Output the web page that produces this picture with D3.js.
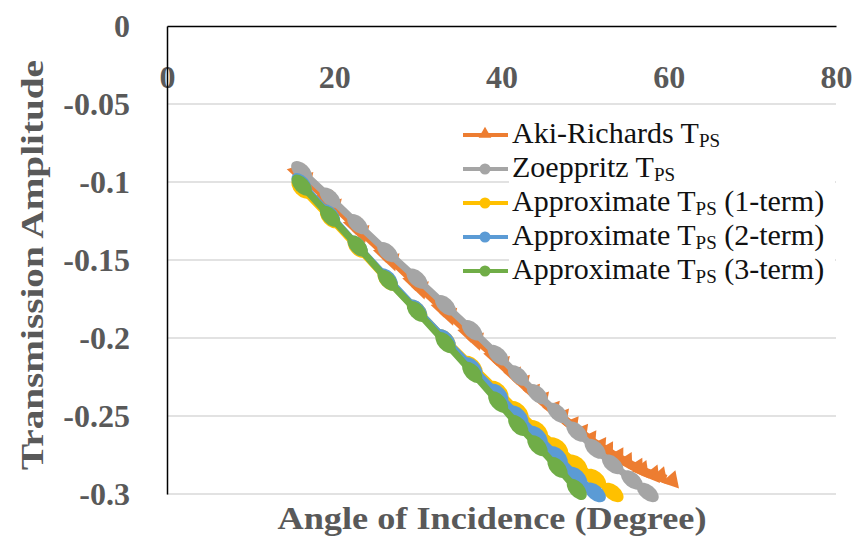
<!DOCTYPE html>
<meta charset="utf-8">
<script src="https://d3js.org/d3.v7.min.js"></script>
<style>
  body { margin: 0; background: #fff; }
</style>
<div id="chart"></div>
<script>

// angles of incidence (degrees) shared by every series
var angles = [16.1, 19.5, 22.8, 26.4, 29.9, 33.3, 36.5, 39.6, 42.0, 44.3, 46.7, 49.0, 51.2, 53.3, 55.6, 57.5, 59.7];

// transmission amplitudes
var akiRichards = [-0.096, -0.113, -0.130, -0.148, -0.166, -0.183, -0.199, -0.214, -0.226, -0.237, -0.248, -0.258, -0.267, -0.274, -0.281, -0.286, -0.290];
var zoeppritz   = [-0.093, -0.110, -0.127, -0.145, -0.162, -0.179, -0.195, -0.211, -0.224, -0.236, -0.248, -0.260, -0.271, -0.281, -0.291, -0.299];
var approx1     = [-0.104, -0.123, -0.142, -0.163, -0.182, -0.201, -0.218, -0.234, -0.247, -0.259, -0.270, -0.281, -0.290, -0.299];
var approx2     = [-0.101, -0.121, -0.141, -0.162, -0.182, -0.201, -0.219, -0.236, -0.250, -0.263, -0.276, -0.289, -0.299];
var approx3     = [-0.102, -0.122, -0.141, -0.163, -0.183, -0.203, -0.222, -0.241, -0.256, -0.269, -0.283, -0.297];

var seriesNames = ["Aki-Richards", "Zoeppritz", "Approximate", "Approximate", "Approximate"];
var seriesSuffix = ["", "", " (1-term)", " (2-term)", " (3-term)"];
var seriesColors = ["#ED7D31", "#A5A5A5", "#FFC000", "#5B9BD5", "#70AD47"];
var seriesValues = [akiRichards, zoeppritz, approx1, approx2, approx3];

var xTicks = [0, 20, 40, 60, 80];
var yTicks = [0, -0.05, -0.1, -0.15, -0.2, -0.25, -0.3];

var width = 857, height = 545;
var plotLeft = 167, plotRight = 836, plotTop = 26, plotBottom = 494;

var svg = d3.select("#chart")
  .append("svg")
    .attr("width", width)
    .attr("height", height);

var x = d3.scaleLinear().domain([0, 80]).range([plotLeft, plotRight]);
var y = d3.scaleLinear().domain([-0.3, 0]).range([plotBottom, plotTop]);

// gridlines
svg.append("g")
  .selectAll("line")
  .data(yTicks.filter(function(d) { return d < 0; }))
  .enter()
  .append("line")
    .attr("x1", plotLeft)
    .attr("x2", plotRight)
    .attr("y1", function(d) { return y(d); })
    .attr("y2", function(d) { return y(d); })
    .attr("stroke", "#d9d9d9")
    .attr("stroke-width", 1.3);

var tickFont = "'Liberation Serif', 'DejaVu Serif', serif";

// X axis (sits at y = 0, the top of the plot)
var gx = svg.append("g")
  .attr("transform", "translate(0," + y(0) + ")")
  .call(d3.axisBottom(x).tickValues(xTicks).tickSize(0).tickPadding(39).tickFormat(d3.format("d")));
gx.select(".domain").attr("stroke", "#000").attr("stroke-width", 1.5);
gx.selectAll("text")
  .style("font-family", tickFont)
  .style("font-size", "32px")
  .style("font-weight", "bold")
  .attr("fill", "#595959");

// Y axis
var gy = svg.append("g")
  .attr("transform", "translate(" + x(0) + ",0)")
  .call(d3.axisLeft(y).tickValues(yTicks).tickSize(0).tickPadding(37)
    .tickFormat(function(d) { return d === 0 ? "0" : String(d); }));
gy.select(".domain").attr("stroke", "#000").attr("stroke-width", 1.5);
gy.selectAll("text")
  .style("font-family", tickFont)
  .style("font-size", "32px")
  .style("font-weight", "bold")
  .attr("fill", "#595959");

// axis titles
svg.append("text")
  .attr("x", 492)
  .attr("y", 529)
  .attr("text-anchor", "middle")
  .attr("textLength", 429)
  .attr("lengthAdjust", "spacingAndGlyphs")
  .style("font-family", tickFont)
  .style("font-size", "32px")
  .style("font-weight", "bold")
  .attr("fill", "#595959")
  .text("Angle of Incidence (Degree)");

svg.append("text")
  .attr("transform", "translate(43,265)rotate(-90)")
  .attr("text-anchor", "middle")
  .attr("textLength", 410)
  .attr("lengthAdjust", "spacingAndGlyphs")
  .style("font-family", tickFont)
  .style("font-size", "32px")
  .style("font-weight", "bold")
  .attr("fill", "#595959")
  .text("Transmission Amplitude");

// series
var line = d3.line()
  .x(function(d) { return x(d[0]); })
  .y(function(d) { return y(d[1]); });

function slopeAt(pts, i) {
  var a = pts[Math.max(i - 1, 0)], b = pts[Math.min(i + 1, pts.length - 1)];
  return Math.atan2(y(b[1]) - y(a[1]), x(b[0]) - x(a[0])) * 180 / Math.PI;
}

var triangle = d3.symbol().type(d3.symbolTriangle).size(150)();

seriesValues.forEach(function(vals, s) {
  var pts = vals.map(function(v, i) { return [angles[i], v]; });
  var g = svg.append("g");
  g.append("path")
    .attr("d", line(pts))
    .attr("fill", "none")
    .attr("stroke", seriesColors[s])
    .attr("stroke-width", 7)
    .attr("stroke-linejoin", "round");

  var m = g.selectAll("g.marker")
    .data(pts)
    .enter()
    .append("g")
      .attr("transform", function(d, i) {
        return "translate(" + x(d[0]) + "," + y(d[1]) + ")rotate(" + slopeAt(pts, i) + ")";
      });

  if (s === 0) {
    [-6, 6].forEach(function(off) {
      m.append("path")
        .attr("d", triangle)
        .attr("transform", "translate(" + off + ",0)")
        .attr("fill", seriesColors[s]);
    });
  } else {
    m.append("ellipse")
      .attr("rx", 12.5)
      .attr("ry", 7.5)
      .attr("fill", seriesColors[s]);
  }
});

// legend
var legend = svg.append("g");
legend.append("rect")
  .attr("x", 509)
  .attr("y", 118)
  .attr("width", 326)
  .attr("height", 172)
  .attr("fill", "#fff");

var rows = legend.selectAll("g.row")
  .data(seriesNames)
  .enter()
  .append("g")
    .attr("transform", function(d, i) { return "translate(0," + (143 + i * 34) + ")"; });

rows.append("line")
  .attr("x1", 463)
  .attr("x2", 508)
  .attr("y1", -8)
  .attr("y2", -8)
  .attr("stroke", function(d, i) { return seriesColors[i]; })
  .attr("stroke-width", 4);

rows.each(function(d, i) {
  var r = d3.select(this);
  if (i === 0) {
    r.append("path")
      .attr("d", d3.symbol().type(d3.symbolTriangle).size(70)())
      .attr("transform", "translate(485,-9)")
      .attr("fill", seriesColors[i]);
  } else {
    r.append("circle")
      .attr("cx", 485)
      .attr("cy", -8)
      .attr("r", 5.5)
      .attr("fill", seriesColors[i]);
  }
});

var txt = rows.append("text")
  .attr("x", 512)
  .attr("y", 0)
  .style("font-family", tickFont)
  .style("font-size", "30px")
  .attr("fill", "#111");
txt.append("tspan").text(function(d) { return d + " T"; });
txt.append("tspan").attr("dy", 4).style("font-size", "19px").text("PS");
txt.append("tspan").attr("dy", -4).text(function(d, i) { return seriesSuffix[i]; });

</script>
